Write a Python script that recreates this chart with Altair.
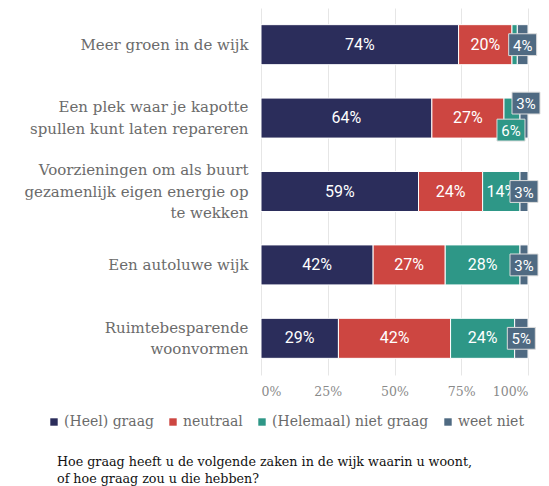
import altair as alt
import pandas as pd

categories = [
    "Meer groen in de wijk",
    "Een plek waar je kapotte|spullen kunt laten repareren",
    "Voorzieningen om als buurt|gezamenlijk eigen energie op|te wekken",
    "Een autoluwe wijk",
    "Ruimtebesparende|woonvormen",
]
answers = ["(Heel) graag", "neutraal", "(Helemaal) niet graag", "weet niet"]
heel_graag = [74, 64, 59, 42, 29]
neutraal = [20, 27, 24, 27, 42]
niet_graag = [2, 6, 14, 28, 24]
weet_niet = [4, 3, 3, 3, 5]

colors = ["#2b2d5b", "#cd4641", "#2e9787", "#4f6a82"]
title_lines = [
    "Hoe graag heeft u de volgende zaken in de wijk waarin u woont,",
    "of hoe graag zou u die hebben?",
]

# label nudges for colliding boxed labels (styling only)
nudge_up = [(categories[1], "weet niet")]
nudge_down = [(categories[1], "(Helemaal) niet graag")]

rows = []
for i, c in enumerate(categories):
    for j, (a, vals) in enumerate(zip(answers, [heel_graag, neutraal, niet_graag, weet_niet])):
        nud = "up" if (c, a) in nudge_up else ("down" if (c, a) in nudge_down else "none")
        rows.append({"cat": c, "answer": a, "order": j, "value": vals[i], "nudge": nud})
df = pd.DataFrame(rows)

SERIF = "DejaVu Serif"
SANS = "Roboto"
LINE_H = 21.5

color_scale = alt.Scale(domain=answers, range=colors)

base = alt.Chart(df).transform_stack(
    stack="value", groupby=["cat"], as_=["x0", "x1"], sort=[alt.SortField("order", "ascending")]
).transform_calculate(mid="(datum.x0 + datum.x1) / 2")

y_enc = alt.Y(
    "cat:N",
    sort=categories,
    title=None,
    scale=alt.Scale(paddingInner=0.455, paddingOuter=0.227),
    axis=alt.Axis(
        labelExpr="split(datum.label, '|')",
        labelFont=SERIF,
        labelFontSize=15,
        labelColor="#6b6b6b",
        labelLineHeight=LINE_H,
        labelPadding=13,
        labelLimit=400,
        labelOffset={
            "condition": [
                {"test": "length(split(datum.value, '|')) == 3", "value": -LINE_H},
                {"test": "length(split(datum.value, '|')) == 2", "value": -LINE_H / 2},
            ],
            "value": 0,
        },
        ticks=False,
        domain=False,
        grid=False,
    ),
)

bars = base.mark_bar(stroke="white", strokeWidth=1).encode(
    x=alt.X(
        "x0:Q",
        scale=alt.Scale(domain=[0, 100], nice=False),
        title=None,
        axis=alt.Axis(
            values=[0, 25, 50, 75, 100],
            labelExpr="datum.value + '%'",
            labelFont=SERIF,
            labelFontSize=12.5,
            labelColor="#8a8a8a",
            labelPadding=10,
            ticks=False,
            domain=False,
            grid=True,
            gridColor="#e6e6e6",
            gridWidth=1,
        ),
    ),
    x2="x1:Q",
    y=y_enc,
    color=alt.Color(
        "answer:N",
        scale=color_scale,
        sort=answers,
        title=None,
        legend=alt.Legend(
            orient="none",
            direction="horizontal",
            legendX=-214,
            legendY=407,
            symbolType="square",
            symbolSize=55,
            symbolStrokeWidth=0,
            labelFont=SERIF,
            labelFontSize=14,
            labelColor="#6b6b6b",
            labelOffset=3,
            labelLimit=300,
            columnPadding=12,
        ),
    ),
    order=alt.Order("order:Q"),
)

plain_text = base.transform_filter("datum.value >= 10").mark_text(
    font=SANS, fontSize=16, color="white", align="center", baseline="middle"
).encode(
    x=alt.X("mid:Q"),
    y=alt.Y("cat:N", sort=categories),
    text=alt.Text("label:N"),
).transform_calculate(label="datum.value + '%'")

BOX = "M-1,-0.78H1V0.78H-1Z"


def boxed(nudge, dx, dy):
    b = base.transform_filter(
        f"datum.value >= 3 && datum.value < 10 && datum.nudge == '{nudge}'"
    ).transform_calculate(label="datum.value + '%'")
    box = b.mark_point(
        shape=BOX, size=784, filled=True, opacity=1, stroke="#dcdcdc", strokeWidth=1,
        xOffset=dx, yOffset=dy,
    ).encode(
        x=alt.X("mid:Q"),
        y=alt.Y("cat:N", sort=categories),
        fill=alt.Fill("answer:N", scale=color_scale, legend=None),
    )
    txt = b.mark_text(
        font=SANS, fontSize=15, color="white", align="center", baseline="middle", dx=dx, dy=dy + 1
    ).encode(
        x=alt.X("mid:Q"),
        y=alt.Y("cat:N", sort=categories),
        text=alt.Text("label:N"),
    )
    return box + txt


chart = alt.layer(
    bars,
    plain_text,
    boxed("none", 0, 0),
    boxed("down", -1, 12),
    boxed("up", 2, -15),
).properties(
    width=267,
    height=367,
    autosize=alt.AutoSizeParams(type="none"),
    padding={"left": 253, "top": 0, "right": 13, "bottom": 111},
    title=alt.TitleParams(
        text=title_lines,
        orient="bottom",
        anchor="start",
        frame="group",
        dx=-204,
        offset=27,
        font=SERIF,
        fontSize=12.7,
        fontWeight="normal",
        color="#111111",
        lineHeight=16.5,
    ),
).configure_view(stroke=None)

chart.save("out.html", embed_options={"renderer": "svg", "actions": False})
